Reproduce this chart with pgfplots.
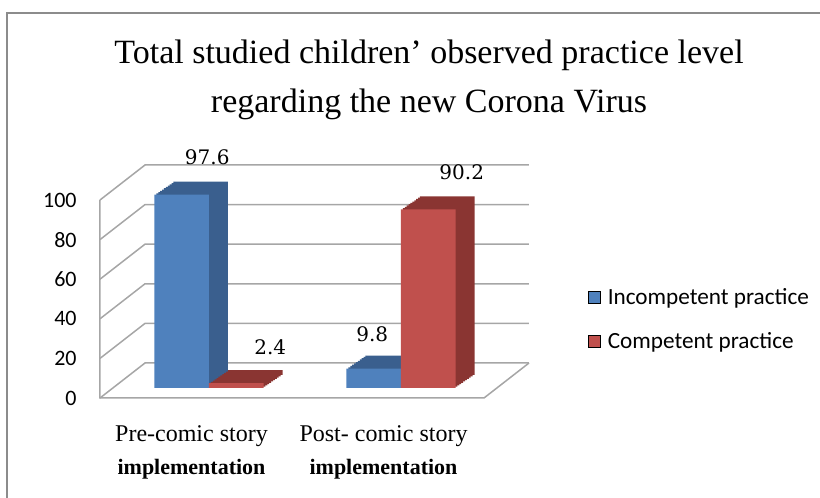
\documentclass[border=0pt]{standalone}
\usepackage{fontspec}
\setmainfont{Liberation Serif}
\newfontfamily\sansf{Carlito}
\newfontfamily\labf{DejaVu Serif}
\usepackage{pgfplots}
\usepackage{pgfplotstable}
\pgfplotsset{compat=1.18}
\definecolor{cblue}{HTML}{4F81BD}
\definecolor{cbluedk}{HTML}{3A5F8E}
\definecolor{cred}{HTML}{C0504D}
\definecolor{creddk}{HTML}{8A3532}
\definecolor{gridc}{HTML}{A6A6A6}
\definecolor{framec}{HTML}{8C8C8C}
\pgfplotstableread{
x y dx dy
0 97.6 12.75 19
1 9.8 -0.75 17
}\incomp
\pgfplotstableread{
x y dx dy
0 2.4 17 18
1 90.2 16.75 18.5
}\comp
\tikzset{
 ex/.style={
  preaction={fill=#1,transform canvas={shift={(0.95pt,0.65pt)}}},
  preaction={fill=#1,transform canvas={shift={(1.9pt,1.3pt)}}},
  preaction={fill=#1,transform canvas={shift={(2.85pt,1.95pt)}}},
  preaction={fill=#1,transform canvas={shift={(3.8pt,2.6pt)}}},
  preaction={fill=#1,transform canvas={shift={(4.75pt,3.25pt)}}},
  preaction={fill=#1,transform canvas={shift={(5.7pt,3.9pt)}}},
  preaction={fill=#1,transform canvas={shift={(6.65pt,4.55pt)}}},
  preaction={fill=#1,transform canvas={shift={(7.6pt,5.2pt)}}},
  preaction={fill=#1,transform canvas={shift={(8.55pt,5.85pt)}}},
  preaction={fill=#1,transform canvas={shift={(9.5pt,6.5pt)}}}
 }
}
\begin{document}
\begin{tikzpicture}
\path[use as bounding box] (0,0) rectangle (410pt,249pt);
% outer frame
\draw[framec, line width=0.8pt] (3.5pt,0pt) -- (3.5pt,242.5pt) -- (410pt,242.5pt);
% title
\node[anchor=base, font=\fontsize{17}{20}\selectfont] at (214.5pt,217pt) {Total studied children’ observed practice level};
\node[anchor=base, font=\fontsize{17}{20}\selectfont] at (214.5pt,192.5pt) {regarding the new Corona Virus};
\begin{axis}[
  at={(56.5pt,55pt)}, anchor=south west,
  scale only axis, width=192pt, height=99pt,
  xmin=-0.5, xmax=1.5, ymin=0, ymax=100,
  clip=false,
  axis line style={draw=none},
  tick style={draw=none},
  major tick length=0pt,
  ytick={0,20,40,60,80,100},
  /pgf/number format/assume math mode=true,
  yticklabel style={font=\sansf\fontsize{11}{13}\selectfont, anchor=east, inner sep=0pt, xshift=-18pt, yshift=-5pt},
  xtick={0,1},
  xticklabels={{\fontsize{12}{16.7}\selectfont Pre-comic story\\\bfseries\fontsize{11}{16.7}\selectfont implementation},
               {\fontsize{12}{16.7}\selectfont Post- comic story\\\bfseries\fontsize{11}{16.7}\selectfont implementation}},
  xticklabel style={align=center, anchor=north, inner sep=0pt, xshift=-8.75pt, yshift=-18.5pt, font=\fontsize{12}{16.7}\selectfont},
  ybar=0pt, bar width=27.25pt,
  legend cell align=left,
  legend image code/.code={\fill[#1] (0pt,-3pt) rectangle (6pt,3pt); \path[draw=none,fill=none] (0pt,0pt) rectangle (8.5pt,0.1pt);},
  legend style={at={(axis description cs:1.237,0.345)}, anchor=west, draw=none, fill=none, inner sep=0pt,
     row sep=10.5pt, font=\sansf\fontsize{11.6}{13.5}\selectfont,
     nodes={inner sep=1pt}},
]
\pgfplotsinvokeforeach{0,20,40,60,80,100}{
  \draw[gridc, line width=0.75pt] ([shift={(-6.5pt,-5pt)}]axis cs:-0.5,#1) -- ([shift={(16pt,12.5pt)}]axis cs:-0.5,#1) -- ([shift={(16pt,12.5pt)}]axis cs:1.5,#1);
}
\draw[gridc, line width=0.75pt] ([shift={(-6.5pt,-5pt)}]axis cs:-0.5,100) -- ([shift={(-6.5pt,-5pt)}]axis cs:-0.5,0) -- ([shift={(-6.5pt,-5pt)}]axis cs:1.5,0) -- ([shift={(16pt,12.5pt)}]axis cs:1.5,0);

\addlegendimage{fill=cblue}
\addlegendentry{Incompetent practice}
\addlegendimage{fill=cred}
\addlegendentry{Competent practice}

\addplot[forget plot, draw=none, fill=cblue, ex=cbluedk, bar shift=-13.625pt,
  visualization depends on={\thisrow{dx}\as\ldx},
  visualization depends on={\thisrow{dy}\as\ldy},
  nodes near coords,
  every node near coord/.append style={anchor=center, xshift=\ldx pt, yshift=\ldy pt, font=\labf\fontsize{10}{12}\selectfont, text=black}]
  table[x=x,y=y]{\incomp};
\addplot[forget plot, draw=none, fill=cred, ex=creddk, bar shift=13.625pt,
  visualization depends on={\thisrow{dx}\as\ldx},
  visualization depends on={\thisrow{dy}\as\ldy},
  nodes near coords,
  every node near coord/.append style={anchor=center, xshift=\ldx pt, yshift=\ldy pt, font=\labf\fontsize{10}{12}\selectfont, text=black}]
  table[x=x,y=y]{\comp};
\end{axis}
\end{tikzpicture}
\end{document}
